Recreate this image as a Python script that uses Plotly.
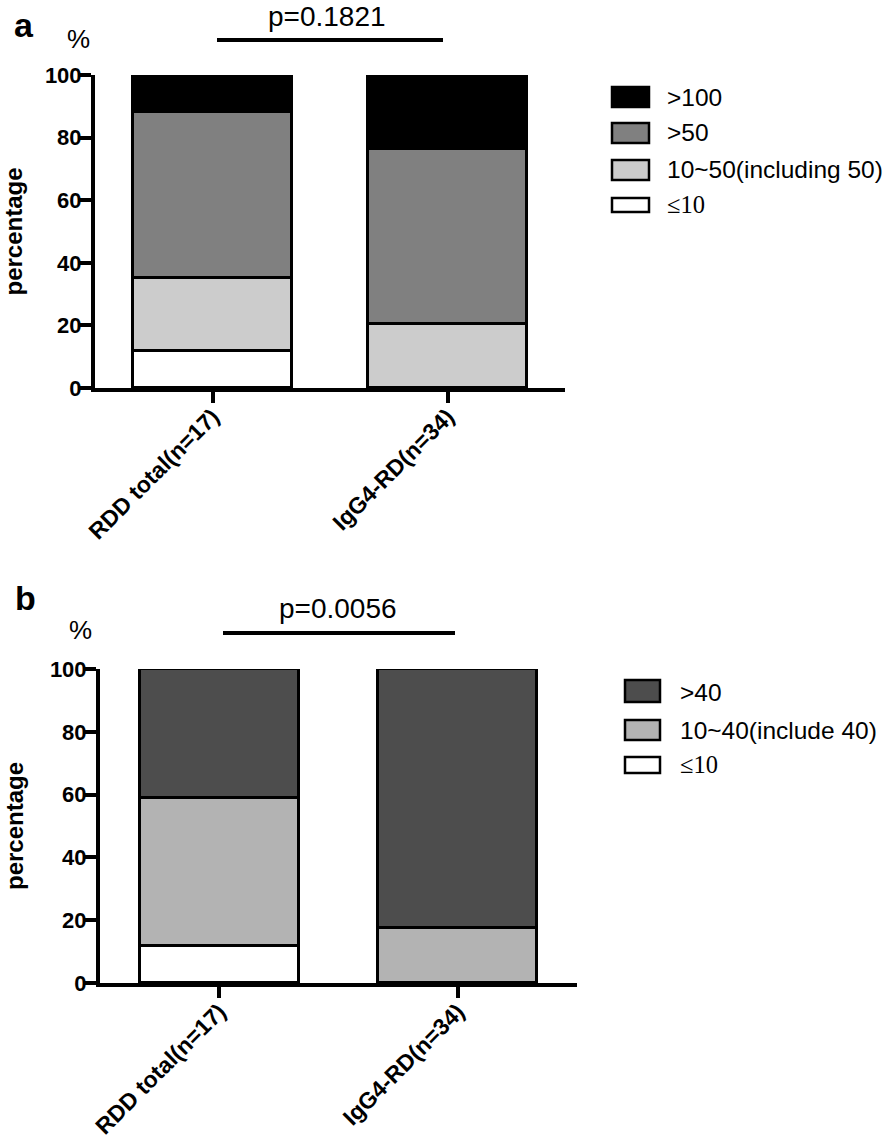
import plotly.graph_objects as go

W, H = 896, 1143

categories = ["RDD total(n=17)", "IgG4-RD(n=34)"]

# Panel a series (percent)
a_names = ["≤10", "10~50(including 50)", ">50", ">100"]
a_le10 = [11.8, 0.0]
a_10_50 = [23.5, 20.6]
a_gt50 = [52.9, 55.9]
a_gt100 = [11.8, 23.5]
a_colors = ["#ffffff", "#cccccc", "#808080", "#000000"]

# Panel b series (percent)
b_names = ["≤10", "10~40(include 40)", ">40"]
b_le10 = [11.8, 0.0]
b_10_40 = [47.1, 17.6]
b_gt40 = [41.1, 82.4]
b_colors = ["#ffffff", "#b3b3b3", "#4d4d4d"]

yticks = [0, 20, 40, 60, 80, 100]
p_a = "p=0.1821"
p_b = "p=0.0056"


def px(x):
    return x / W


def py(y):
    return 1 - y / H


fig = go.Figure()

for name, vals, col in zip(a_names, [a_le10, a_10_50, a_gt50, a_gt100], a_colors):
    fig.add_trace(go.Bar(x=categories, y=vals, name=name, marker=dict(color=col, line=dict(color="black", width=3)),
                         width=0.675, xaxis="x", yaxis="y", showlegend=False))

for name, vals, col in zip(b_names, [b_le10, b_10_40, b_gt40], b_colors):
    fig.add_trace(go.Bar(x=categories, y=vals, name=name, marker=dict(color=col, line=dict(color="black", width=3)),
                         width=0.665, xaxis="x2", yaxis="y2", showlegend=False))

tickfont = dict(family="Liberation Sans", size=22, color="black", weight="bold")
catfont = dict(family="Liberation Sans", size=23, color="black", weight="bold")
titlefont = dict(family="Liberation Sans", size=24, color="black", weight="bold")

common_x = dict(type="category", range=[-0.5, 1.5], showline=True, linewidth=4, linecolor="black",
                ticks="outside", ticklen=11, tickwidth=4, tickcolor="black", tickangle=-45,
                tickfont=catfont, ticklabelstandoff=-9,
                showgrid=False, zeroline=False, automargin=False, fixedrange=True)
common_y = dict(range=[0, 100], tickvals=yticks, showline=True, linewidth=4, linecolor="black",
                ticks="outside", ticklen=12, tickwidth=4, tickcolor="black", tickfont=tickfont,
                ticklabelstandoff=-7,
                showgrid=False, zeroline=False, automargin=False, fixedrange=True,
                title=dict(text="percentage", font=titlefont, standoff=20))

fig.update_layout(
    width=W, height=H, margin=dict(l=0, r=0, t=0, b=0),
    paper_bgcolor="white", plot_bgcolor="white", barmode="stack", bargap=0,
    xaxis=dict(domain=[px(95), px(565)], anchor="y", **common_x),
    yaxis=dict(domain=[py(388), py(75)], anchor="x", **common_y),
    xaxis2=dict(domain=[px(100), px(577)], anchor="y2", **common_x),
    yaxis2=dict(domain=[py(983), py(669)], anchor="x2", **common_y),
)

shapes = []
annotations = []

annotations += [
    dict(text="a", x=px(24), y=py(25), font=dict(family="Liberation Sans", size=34, color="black", weight="bold")),
    dict(text="%", x=px(78), y=py(39), font=dict(family="Liberation Sans", size=26, color="black")),
    dict(text="b", x=px(25), y=py(598), font=dict(family="Liberation Sans", size=34, color="black", weight="bold")),
    dict(text="%", x=px(80), y=py(630), font=dict(family="Liberation Sans", size=26, color="black")),
    dict(text=p_a, x=px(327), y=py(16), font=dict(family="Liberation Sans", size=28, color="black")),
    dict(text=p_b, x=px(338), y=py(608), font=dict(family="Liberation Sans", size=28, color="black")),
]
shapes += [
    dict(type="line", xref="paper", yref="paper", x0=px(217), x1=px(443), y0=py(40), y1=py(40),
         line=dict(color="black", width=4)),
    dict(type="line", xref="paper", yref="paper", x0=px(223), x1=px(455), y0=py(633), y1=py(633),
         line=dict(color="black", width=4)),
]

leg_a = [(">100", "#000000", 87, 107, 97), (">50", "#808080", 123, 143, 133),
         ("10~50(including 50)", "#cccccc", 160, 180, 170), ("≤10", "#ffffff", 198, 212, 205)]
for (label, col, y0, y1, yc) in leg_a:
    shapes.append(dict(type="rect", xref="paper", yref="paper", x0=px(612), x1=px(649), y0=py(y1), y1=py(y0),
                       fillcolor=col, line=dict(color="black", width=2.5)))
    fam = "Liberation Serif" if label.startswith("≤") else "Liberation Sans"
    annotations.append(dict(text=label, x=px(665), y=py(yc), xanchor="left",
                            font=dict(family=fam, size=24.5, color="black")))

leg_b = [(">40", "#4d4d4d", 680, 702, 692), ("10~40(include 40)", "#b3b3b3", 720, 740, 730),
         ("≤10", "#ffffff", 757, 773, 764)]
for (label, col, y0, y1, yc) in leg_b:
    shapes.append(dict(type="rect", xref="paper", yref="paper", x0=px(625), x1=px(660), y0=py(y1), y1=py(y0),
                       fillcolor=col, line=dict(color="black", width=2.5)))
    fam = "Liberation Serif" if label.startswith("≤") else "Liberation Sans"
    annotations.append(dict(text=label, x=px(678), y=py(yc), xanchor="left",
                            font=dict(family=fam, size=24.5, color="black")))

for a in annotations:
    a.setdefault("xref", "paper")
    a.setdefault("yref", "paper")
    a.setdefault("showarrow", False)
    a.setdefault("xanchor", "center")
    a.setdefault("yanchor", "middle")

fig.update_layout(shapes=shapes, annotations=annotations)

# remove the default page margin so the figure fills the window exactly
fig.write_html("out.html", config={"displayModeBar": False},
               post_script="document.body.style.margin='0';")
